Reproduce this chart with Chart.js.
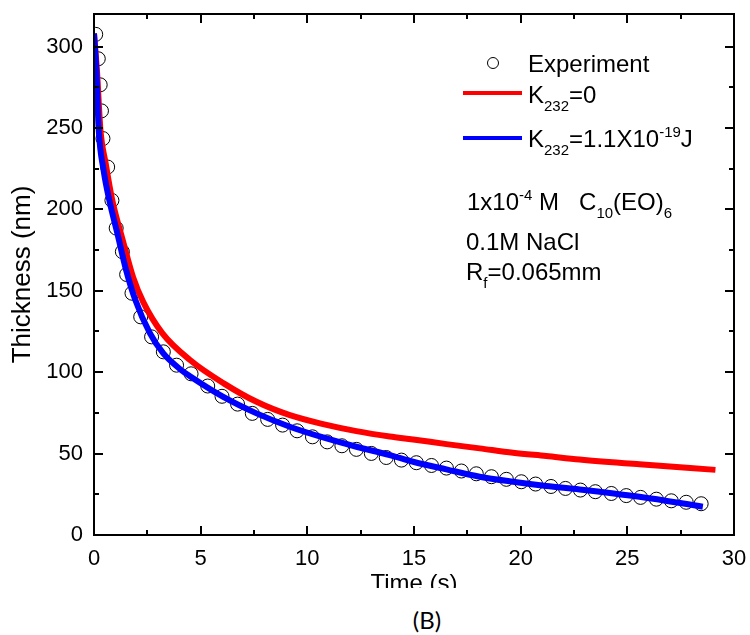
<!DOCTYPE html>
<html>
<head>
<meta charset="utf-8">
<script src="https://cdn.jsdelivr.net/npm/chart.js@4.4.1/dist/chart.umd.min.js"></script>
<style>
  body { margin: 0; background: #fff; }
  #wrap { position: relative; width: 750px; height: 635px; overflow: hidden; }
  #chart { position: absolute; left: 0; top: 0; }
  .txt { position: absolute; font-family: 'Liberation Sans', Arial, sans-serif; font-size: 24px; line-height: 24px; color: #000; white-space: nowrap; }
  .sb { font-size: 15px; position: relative; top: 8px; }
  .sp { font-size: 15px; position: relative; top: -10px; }
  .swatch { position: absolute; height: 4px; width: 59px; left: 463px; }
  #dot { position: absolute; left: 487px; top: 57px; width: 10px; height: 10px; border: 1px solid #000; border-radius: 50%; }
  #cover { position: absolute; left: 0; top: 588px; width: 750px; height: 47px; background: #fff; }
  #caption { position: absolute; left: 0; width: 854px; top: 606px; text-align: center; font-family: Lato, 'Open Sans', sans-serif; font-size: 24px; line-height: 28px; }
</style>
</head>
<body>
<div id="wrap">
  <canvas id="chart" width="750" height="635"></canvas>
  <div id="dot"></div>
  <div class="txt" style="left:528px; top:52px;">Experiment</div>
  <div class="swatch" style="top:91px; background:#ff0000;"></div>
  <div class="txt" style="left:528px; top:83px;">K<span class="sb">232</span>=0</div>
  <div class="swatch" style="top:136px; background:#0000ff;"></div>
  <div class="txt" style="left:528px; top:127px;">K<span class="sb">232</span>=1.1X10<span class="sp">-19</span>J</div>
  <div class="txt" style="left:467px; top:190px;">1x10<span class="sp">-4</span> M&nbsp;&nbsp; C<span class="sb">10</span>(EO)<span class="sb">6</span></div>
  <div class="txt" style="left:466px; top:230px;">0.1M NaCl</div>
  <div class="txt" style="left:466px; top:260px;">R<span class="sb">f</span>=0.065mm</div>
  <div id="cover"></div>
  <div id="caption">(B)</div>
</div>
<script>
// experiment points
const expTime = [0.08, 0.2, 0.29, 0.35, 0.42, 0.64, 0.84, 1.04, 1.33, 1.53, 1.78, 2.19, 2.7, 3.25, 3.87,
  4.55, 5.33, 6.0, 6.73, 7.42, 8.14, 8.84, 9.52, 10.24, 10.93, 11.62, 12.3, 13.0, 13.7, 14.41, 15.11,
  15.82, 16.52, 17.22, 17.92, 18.63, 19.33, 20.03, 20.7, 21.42, 22.1, 22.8, 23.5, 24.25, 24.95, 25.62,
  26.36, 27.06, 27.76, 28.46];
const expThick = [307.5, 292.5, 276.5, 260.5, 243.5, 226, 205.5, 188.5, 174, 160, 148.5, 134, 121.7, 112.5, 104.3,
  99, 91.5, 85.2, 80.4, 74.7, 71.0, 67.5, 64.0, 60.3, 57.2, 54.8, 52.6, 50.1, 47.6, 46.0, 44.4,
  42.7, 41.1, 39.3, 37.6, 35.8, 34.2, 32.7, 31.3, 29.8, 28.6, 27.6, 26.6, 25.5, 24.2, 23.1,
  22.0, 21.0, 20.1, 19.2];

// K232 = 0 (red)
const redTime = [0, 0.14, 0.3, 0.55, 0.85, 1.37, 1.84, 2.31, 3.2, 4.5, 6.1, 7.62, 9.18, 10.74, 12.3,
  13.86, 14.96, 16.52, 18.08, 19.64, 21.2, 22.76, 25.57, 29.13];
const redThick = [308, 285, 249, 228, 206, 180, 158, 143, 124, 107.5, 93, 81.8, 73.6, 68.1, 63.8,
  60.5, 58.7, 55.8, 53.2, 50.5, 48.5, 46.4, 43.4, 40];

// K232 = 1.1e-19 J (blue)
const blueTime = [0, 0.11, 0.22, 0.45, 0.72, 1.1, 1.5, 1.92, 2.62, 3.25, 4.1, 4.5, 6.06, 7.62, 9.18,
  10.74, 12.3, 13.86, 14.96, 16.52, 18.08, 19.64, 21.2, 22.76, 25.57, 28.54];
const blueThick = [308, 285, 249, 224, 205.5, 185, 163, 145, 124, 111.5, 101.2, 97.5, 84.8, 74.7, 66.5,
  59.9, 54.2, 49.1, 45.0, 40.3, 35.8, 32.7, 30.1, 28.0, 23.5, 17.4];

const xTicks = [0, 5, 10, 15, 20, 25, 30];
const xMinor = [2.5, 7.5, 12.5, 17.5, 22.5, 27.5];
const yTicks = [0, 50, 100, 150, 200, 250, 300];
const yMinor = [25, 75, 125, 175, 225, 275];

const toXY = (xs, ys) => xs.map((x, i) => ({ x: x, y: ys[i] }));
const font = 'Liberation Sans, Arial, sans-serif';

// frame on all four sides with inward ticks
const frameTicks = {
  id: 'frameTicks',
  afterDatasetsDraw(chart) {
    const { ctx, chartArea: a, scales: { x, y } } = chart;
    ctx.save();
    ctx.strokeStyle = '#000';
    ctx.lineWidth = 2;
    ctx.strokeRect(a.left, a.top, a.right - a.left, a.bottom - a.top);
    ctx.beginPath();
    const xt = (vals, len) => vals.forEach(v => {
      const px = Math.round(x.getPixelForValue(v));
      ctx.moveTo(px, a.bottom); ctx.lineTo(px, a.bottom - len);
      ctx.moveTo(px, a.top); ctx.lineTo(px, a.top + len);
    });
    const yt = (vals, len) => vals.forEach(v => {
      const py = Math.round(y.getPixelForValue(v));
      ctx.moveTo(a.left, py); ctx.lineTo(a.left + len, py);
      ctx.moveTo(a.right, py); ctx.lineTo(a.right - len, py);
    });
    xt(xTicks, 9); xt(xMinor, 5);
    yt(yTicks, 9); yt(yMinor, 5);
    ctx.stroke();
    ctx.restore();
  }
};

new Chart(document.getElementById('chart'), {
  type: 'scatter',
  data: {
    datasets: [
      {
        label: 'K232=1.1X10-19J',
        data: toXY(blueTime, blueThick),
        showLine: true,
        borderColor: '#0000ff',
        borderWidth: 6,
        pointRadius: 0,
        cubicInterpolationMode: 'monotone'
      },
      {
        label: 'K232=0',
        data: toXY(redTime, redThick),
        showLine: true,
        borderColor: '#ff0000',
        borderWidth: 6,
        pointRadius: 0,
        cubicInterpolationMode: 'monotone'
      },
      {
        label: 'Experiment',
        data: toXY(expTime, expThick),
        pointStyle: 'circle',
        pointRadius: 7,
        borderWidth: 1,
        borderColor: '#000',
        backgroundColor: 'rgba(0,0,0,0)'
      }
    ]
  },
  options: {
    responsive: false,
    animation: false,
    layout: { padding: { top: 14, right: 16, left: 0, bottom: 0 } },
    plugins: { legend: { display: false }, tooltip: { enabled: false } },
    scales: {
      x: {
        type: 'linear',
        min: 0,
        max: 30,
        afterBuildTicks: s => { s.ticks = xTicks.map(v => ({ value: v })); },
        afterFit: s => { s.height = 100; s.paddingLeft = 0; s.paddingRight = 0; },
        grid: { display: false, drawTicks: false },
        border: { display: false },
        ticks: { color: '#000', font: { family: font, size: 22 }, padding: 11, maxRotation: 0, autoSkip: false },
        title: { display: true, text: 'Time (s)', color: '#000', font: { family: font, size: 24 }, padding: { top: 0, bottom: 36 } }
      },
      y: {
        min: 0,
        max: 320,
        afterBuildTicks: s => { s.ticks = yTicks.map(v => ({ value: v })); },
        afterFit: s => { s.width = 94; s.paddingTop = 0; s.paddingBottom = 0; },
        grid: { display: false, drawTicks: false },
        border: { display: false },
        ticks: { color: '#000', font: { family: font, size: 22 }, padding: 11, autoSkip: false },
        title: { display: true, text: 'Thickness (nm)', color: '#000', font: { family: font, size: 26 }, padding: { top: 7, bottom: 0 } }
      }
    }
  },
  plugins: [frameTicks]
});
</script>
</body>
</html>
